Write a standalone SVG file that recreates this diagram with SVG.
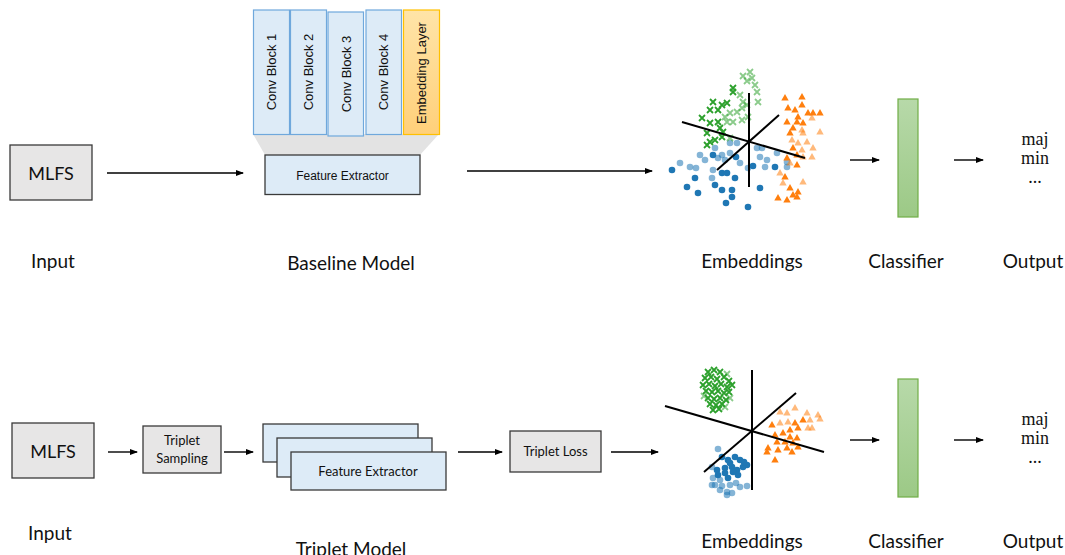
<svg xmlns="http://www.w3.org/2000/svg" width="1065" height="555" viewBox="0 0 1065 555">
<style>
.lbl{font-family:Lato,"Open Sans",sans-serif;font-size:19px;fill:#111;text-anchor:middle}
.mlfs{font-family:Lato,"Open Sans",sans-serif;font-size:18px;fill:#111;text-anchor:middle}
.box{fill:#E7E6E6;stroke:#3a3a3a;stroke-width:1.3}
.fe{fill:#DDEBF7;stroke:#3a3a3a;stroke-width:1.3}
.cb{fill:#DDEBF7;stroke:#6FA8DC;stroke-width:1.2}
.rt{font-family:"Liberation Sans",Arial,sans-serif;font-size:13px;fill:#111;text-anchor:middle}
.sm{font-family:Lato,"Open Sans",sans-serif;font-size:13px;fill:#111;text-anchor:middle}
.ar{font-family:"Liberation Sans",Arial,sans-serif;font-size:12px;fill:#111;text-anchor:middle}
.out{font-family:"Liberation Serif","Times New Roman",serif;font-size:18px;fill:#111;text-anchor:middle}
.con{stroke:#000;stroke-width:1.4;fill:none;marker-end:url(#ah)}
.axis{stroke:#000;stroke-width:2;fill:none}
.clf{fill:url(#gg);stroke:#70AD47;stroke-width:1.2}
.l{opacity:0.55}
</style>
<defs>
<marker id="ah" markerWidth="8" markerHeight="8" refX="7" refY="4" orient="auto" markerUnits="userSpaceOnUse">
<path d="M0,1L8,4L0,7Z" fill="#000"/>
</marker>
<linearGradient id="gg" x1="0" y1="0" x2="0" y2="1"><stop offset="0" stop-color="#B7D9A9"/><stop offset="1" stop-color="#9CC986"/></linearGradient>
<linearGradient id="og" x1="0" y1="0" x2="0" y2="1"><stop offset="0" stop-color="#FFE4A8"/><stop offset="1" stop-color="#FFD07A"/></linearGradient>
<path id="cx" d="M-3,-3L3,3M-3,3L3,-3" stroke="#2CA02C" stroke-width="1.8" fill="none"/>
<path id="tr" d="M0,-4L3.7,2.6L-3.7,2.6Z" fill="#FF7F0E"/>
<circle id="dt" r="3.3" fill="#1F77B4"/>
</defs>

<g id="connectors">
<line class="con" x1="107" y1="173" x2="243" y2="173"/>
<line class="con" x1="467" y1="171" x2="652" y2="171"/>
<line class="con" x1="850" y1="160" x2="879" y2="160"/>
<line class="con" x1="954" y1="160" x2="983" y2="160"/>
<line class="con" x1="108" y1="452" x2="137" y2="452"/>
<line class="con" x1="224" y1="452" x2="253" y2="452"/>
<line class="con" x1="458" y1="452" x2="502" y2="452"/>
<line class="con" x1="611" y1="452" x2="658" y2="452"/>
<line class="con" x1="850" y1="440" x2="879" y2="440"/>
<line class="con" x1="954" y1="440" x2="983" y2="440"/>
</g>

<g id="input-top">
<rect class="box" x="10" y="145" width="82" height="55"/>
<text class="mlfs" x="51" y="180">MLFS</text>
<text class="lbl" x="53" y="268">Input</text>
</g>

<g id="baseline-model">
<polygon points="253,134 439,134 420,155 265,155" fill="#E3E3E3"/>
<rect class="cb" x="253.5" y="10" width="36" height="124.5"/>
<rect class="cb" x="290.5" y="10" width="36" height="124.5"/>
<rect class="cb" x="328" y="12" width="35.5" height="124"/>
<rect class="cb" x="366" y="10" width="35.5" height="124.5"/>
<rect x="403.5" y="10" width="36" height="124.5" fill="url(#og)" stroke="#FFC000" stroke-width="1.2"/>
<text class="rt" transform="translate(276,72) rotate(-90)">Conv Block 1</text>
<text class="rt" transform="translate(313,72) rotate(-90)">Conv Block 2</text>
<text class="rt" transform="translate(350.5,74) rotate(-90)">Conv Block 3</text>
<text class="rt" transform="translate(388,72) rotate(-90)">Conv Block 4</text>
<text class="rt" transform="translate(426,73) rotate(-90)">Embedding Layer</text>
<rect class="fe" x="265" y="155" width="155" height="39.5"/>
<text class="ar" x="342.5" y="180">Feature Extractor</text>
<text class="lbl" x="351" y="270">Baseline Model</text>
</g>

<g id="embeddings-top">
<g>
<use href="#dt" x="672" y="170"/><use href="#dt" class="l" x="680" y="163"/><use href="#dt" class="l" x="690" y="167"/><use href="#dt" class="l" x="696" y="168"/>
<use href="#dt" class="l" x="700" y="155"/><use href="#dt" class="l" x="705" y="160"/><use href="#dt" x="713" y="155"/><use href="#dt" class="l" x="715" y="148"/>
<use href="#dt" class="l" x="718" y="158"/><use href="#dt" class="l" x="722" y="155"/><use href="#dt" class="l" x="725" y="160"/><use href="#dt" class="l" x="730" y="153"/>
<use href="#dt" class="l" x="737" y="143"/><use href="#dt" class="l" x="730" y="143"/><use href="#dt" x="736" y="157"/><use href="#dt" class="l" x="713" y="170"/>
<use href="#dt" x="722" y="173"/><use href="#dt" x="727" y="173"/><use href="#dt" class="l" x="712" y="178"/><use href="#dt" x="715" y="185"/>
<use href="#dt" x="735" y="178"/><use href="#dt" x="687" y="187"/><use href="#dt" x="698" y="193"/><use href="#dt" x="722" y="190"/>
<use href="#dt" x="732" y="190"/><use href="#dt" x="732" y="197"/><use href="#dt" x="726" y="203"/><use href="#dt" x="748" y="207"/>
<use href="#dt" x="760" y="188"/><use href="#dt" class="l" x="748" y="168"/><use href="#dt" x="753" y="166"/><use href="#dt" class="l" x="760" y="157"/>
<use href="#dt" class="l" x="767" y="160"/><use href="#dt" class="l" x="765" y="167"/><use href="#dt" class="l" x="757" y="148"/><use href="#dt" class="l" x="762" y="148"/>
<use href="#dt" x="775" y="167"/><use href="#dt" class="l" x="777" y="153"/><use href="#dt" class="l" x="787" y="162"/><use href="#dt" class="l" x="787" y="167"/>
<use href="#dt" x="695" y="178"/><use href="#dt" class="l" x="740" y="163"/>
</g>
<g>
<use href="#cx" class="l" x="750" y="72"/><use href="#cx" class="l" x="743" y="76"/><use href="#cx" class="l" x="747" y="81"/><use href="#cx" class="l" x="752" y="78"/>
<use href="#cx" class="l" x="755" y="85"/><use href="#cx" x="733" y="88"/><use href="#cx" x="733" y="92"/><use href="#cx" class="l" x="757" y="92"/>
<use href="#cx" x="713" y="102"/><use href="#cx" x="727" y="103"/><use href="#cx" x="722" y="105"/><use href="#cx" class="l" x="743" y="102"/>
<use href="#cx" class="l" x="747" y="105"/><use href="#cx" class="l" x="758" y="102"/><use href="#cx" x="710" y="110"/><use href="#cx" x="718" y="110"/>
<use href="#cx" class="l" x="730" y="113"/><use href="#cx" class="l" x="737" y="112"/><use href="#cx" class="l" x="742" y="108"/><use href="#cx" x="702" y="118"/>
<use href="#cx" x="710" y="123"/><use href="#cx" x="718" y="122"/><use href="#cx" class="l" x="727" y="122"/><use href="#cx" class="l" x="733" y="122"/>
<use href="#cx" class="l" x="742" y="120"/><use href="#cx" class="l" x="748" y="117"/><use href="#cx" x="707" y="133"/><use href="#cx" x="720" y="128"/>
<use href="#cx" x="723" y="132"/><use href="#cx" class="l" x="730" y="138"/><use href="#cx" x="710" y="142"/><use href="#cx" x="707" y="145"/>
<use href="#cx" x="722" y="137"/><use href="#cx" x="715" y="140"/><use href="#cx" class="l" x="740" y="95"/><use href="#cx" class="l" x="725" y="117"/>
</g>
<g>
<use href="#tr" x="785" y="98"/><use href="#tr" x="802" y="97"/><use href="#tr" x="788" y="108"/><use href="#tr" x="795" y="110"/>
<use href="#tr" x="802" y="105"/><use href="#tr" x="808" y="113"/><use href="#tr" x="813" y="113"/><use href="#tr" x="820" y="113"/>
<use href="#tr" x="798" y="117"/><use href="#tr" x="787" y="122"/><use href="#tr" x="797" y="122"/><use href="#tr" x="803" y="123"/>
<use href="#tr" class="l" x="812" y="118"/><use href="#tr" x="793" y="128"/><use href="#tr" class="l" x="802" y="130"/><use href="#tr" x="790" y="133"/>
<use href="#tr" class="l" x="803" y="133"/><use href="#tr" class="l" x="820" y="132"/><use href="#tr" class="l" x="792" y="140"/><use href="#tr" class="l" x="798" y="143"/>
<use href="#tr" class="l" x="807" y="142"/><use href="#tr" x="793" y="148"/><use href="#tr" class="l" x="802" y="150"/><use href="#tr" class="l" x="813" y="148"/>
<use href="#tr" x="797" y="155"/><use href="#tr" x="787" y="158"/><use href="#tr" class="l" x="803" y="157"/><use href="#tr" class="l" x="812" y="157"/>
<use href="#tr" class="l" x="790" y="163"/><use href="#tr" x="797" y="165"/><use href="#tr" class="l" x="780" y="173"/><use href="#tr" x="785" y="177"/>
<use href="#tr" class="l" x="803" y="182"/><use href="#tr" class="l" x="783" y="183"/><use href="#tr" x="790" y="188"/><use href="#tr" x="798" y="192"/>
<use href="#tr" x="793" y="195"/><use href="#tr" x="778" y="198"/><use href="#tr" x="787" y="200"/><use href="#tr" x="797" y="197"/>
</g>
<line class="axis" x1="749" y1="93" x2="749" y2="187"/>
<line class="axis" x1="682" y1="122" x2="805" y2="158"/>
<line class="axis" x1="717" y1="170" x2="779" y2="115"/>
<text class="lbl" x="752" y="268">Embeddings</text>
</g>

<g id="classifier-top">
<rect class="clf" x="898" y="99" width="20" height="118"/>
<text class="lbl" x="906" y="268">Classifier</text>
</g>

<g id="output-top">
<text class="out" x="1035" y="145">maj</text>
<text class="out" x="1035" y="164">min</text>
<text class="out" x="1035" y="183">...</text>
<text class="lbl" x="1033" y="268">Output</text>
</g>

<g id="input-bottom">
<rect class="box" x="12" y="423" width="82" height="55"/>
<text class="mlfs" x="53" y="458">MLFS</text>
<text class="lbl" x="50" y="540">Input</text>
</g>

<g id="triplet-sampling">
<rect class="box" x="143" y="426" width="78" height="47"/>
<text class="sm" x="182" y="445">Triplet</text>
<text class="sm" x="182" y="463">Sampling</text>
</g>

<g id="triplet-model">
<rect class="fe" x="263" y="424" width="155" height="38"/>
<rect class="fe" x="277" y="438" width="155" height="39"/>
<rect class="fe" x="291" y="452" width="155" height="38"/>
<text class="sm" x="368" y="476">Feature Extractor</text>
<text class="lbl" x="351" y="556">Triplet Model</text>
</g>

<g id="triplet-loss">
<rect class="box" x="510" y="431" width="91" height="41"/>
<text class="sm" x="555.5" y="456">Triplet Loss</text>
</g>

<g id="embeddings-bottom">
<g>
<use href="#cx" x="708" y="372"/><use href="#cx" x="714" y="370"/><use href="#cx" x="720" y="372"/><use href="#cx" x="705" y="378"/>
<use href="#cx" x="711" y="377"/><use href="#cx" x="717" y="379"/><use href="#cx" x="724" y="377"/><use href="#cx" x="729" y="381"/>
<use href="#cx" x="703" y="385"/><use href="#cx" x="709" y="384"/><use href="#cx" x="715" y="386"/><use href="#cx" x="721" y="384"/>
<use href="#cx" x="727" y="387"/><use href="#cx" x="732" y="385"/><use href="#cx" x="706" y="391"/><use href="#cx" x="712" y="392"/>
<use href="#cx" x="718" y="391"/><use href="#cx" x="724" y="393"/><use href="#cx" x="729" y="392"/><use href="#cx" x="708" y="398"/>
<use href="#cx" x="714" y="399"/><use href="#cx" x="720" y="398"/><use href="#cx" x="726" y="400"/><use href="#cx" x="710" y="404"/>
<use href="#cx" x="716" y="405"/><use href="#cx" x="722" y="404"/><use href="#cx" x="713" y="410"/><use href="#cx" x="719" y="409"/>
<use href="#cx" class="l" x="727" y="374"/><use href="#cx" class="l" x="730" y="398"/><use href="#cx" class="l" x="704" y="396"/><use href="#cx" class="l" x="725" y="407"/>
</g>
<g>
<use href="#tr" class="l" x="780" y="412"/><use href="#tr" class="l" x="787" y="413"/><use href="#tr" class="l" x="795" y="408"/><use href="#tr" class="l" x="807" y="413"/>
<use href="#tr" class="l" x="818" y="415"/><use href="#tr" x="772" y="425"/><use href="#tr" class="l" x="780" y="423"/><use href="#tr" class="l" x="788" y="422"/>
<use href="#tr" x="795" y="423"/><use href="#tr" x="803" y="420"/><use href="#tr" class="l" x="810" y="420"/><use href="#tr" class="l" x="820" y="419"/>
<use href="#tr" class="l" x="808" y="428"/><use href="#tr" class="l" x="812" y="428"/><use href="#tr" x="798" y="428"/><use href="#tr" x="790" y="430"/>
<use href="#tr" x="775" y="435"/><use href="#tr" x="783" y="433"/><use href="#tr" x="790" y="437"/><use href="#tr" x="797" y="438"/>
<use href="#tr" x="777" y="442"/><use href="#tr" x="785" y="442"/><use href="#tr" x="793" y="443"/><use href="#tr" x="798" y="447"/>
<use href="#tr" x="768" y="448"/><use href="#tr" x="778" y="450"/><use href="#tr" x="787" y="448"/><use href="#tr" x="792" y="452"/>
<use href="#tr" x="775" y="460"/><use href="#tr" x="767" y="452"/>
</g>
<g>
<use href="#dt" class="l" x="718" y="449"/><use href="#dt" x="722" y="457"/><use href="#dt" x="728" y="460"/><use href="#dt" x="735" y="457"/>
<use href="#dt" x="740" y="460"/><use href="#dt" x="747" y="465"/><use href="#dt" class="l" x="712" y="467"/><use href="#dt" x="717" y="470"/>
<use href="#dt" x="725" y="468"/><use href="#dt" x="732" y="467"/><use href="#dt" x="737" y="470"/><use href="#dt" x="743" y="467"/>
<use href="#dt" class="l" x="713" y="478"/><use href="#dt" class="l" x="720" y="480"/><use href="#dt" x="728" y="478"/><use href="#dt" x="738" y="475"/>
<use href="#dt" x="733" y="472"/><use href="#dt" class="l" x="715" y="485"/><use href="#dt" class="l" x="722" y="486"/><use href="#dt" class="l" x="730" y="485"/>
<use href="#dt" class="l" x="740" y="487"/><use href="#dt" class="l" x="747" y="486"/><use href="#dt" class="l" x="727" y="492"/><use href="#dt" class="l" x="732" y="493"/>
<use href="#dt" class="l" x="727" y="495"/><use href="#dt" class="l" x="712" y="485"/><use href="#dt" x="725" y="473"/><use href="#dt" x="718" y="475"/>
<use href="#dt" x="730" y="463"/><use href="#dt" x="744" y="462"/><use href="#dt" class="l" x="736" y="483"/><use href="#dt" class="l" x="720" y="490"/>
</g>
<line class="axis" x1="752" y1="370" x2="752" y2="490"/>
<line class="axis" x1="665" y1="406" x2="824" y2="452"/>
<line class="axis" x1="704" y1="472" x2="796" y2="393"/>
<text class="lbl" x="752" y="548">Embeddings</text>
</g>

<g id="classifier-bottom">
<rect class="clf" x="898" y="379" width="20" height="118"/>
<text class="lbl" x="906" y="548">Classifier</text>
</g>

<g id="output-bottom">
<text class="out" x="1035" y="425">maj</text>
<text class="out" x="1035" y="444">min</text>
<text class="out" x="1035" y="463">...</text>
<text class="lbl" x="1033" y="548">Output</text>
</g>
</svg>
